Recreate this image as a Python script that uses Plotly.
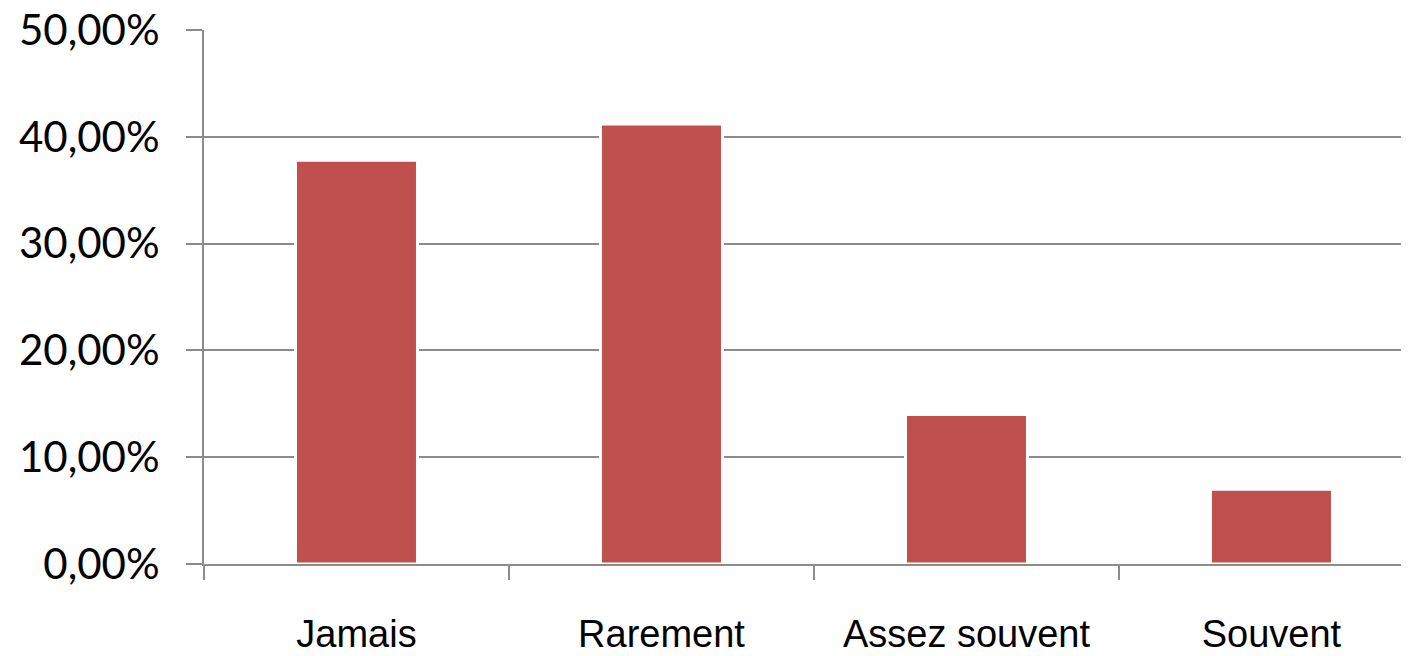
import plotly.graph_objects as go

categories = ["Jamais", "Rarement", "Assez souvent", "Souvent"]
values = [0.378, 0.412, 0.140, 0.070]
y_ticks = [0, 0.1, 0.2, 0.3, 0.4, 0.5]

fig = go.Figure(go.Bar(
    x=categories, y=values, width=0.4,
    marker=dict(color="#C0504D", line=dict(color="white", width=3)),
))

grid_col = "#8c8c8c"
fig.update_layout(
    width=1401, height=648,
    margin=dict(l=196, r=0, t=22, b=92),
    plot_bgcolor="white", paper_bgcolor="white",
    separators=", ",
    showlegend=False,
    xaxis=dict(
        range=[-0.5, 3.451], automargin=False,
        showline=True, linecolor=grid_col, linewidth=2,
        ticks="outside", tickson="boundaries", ticklen=14, tickwidth=2, tickcolor=grid_col,
        tickfont=dict(family="Liberation Sans", size=38, color="black"),
        ticklabelstandoff=35, ticklabeloverflow="allow",
        showgrid=False,
    ),
    yaxis=dict(
        range=[0, 0.5], tickvals=y_ticks, tickformat=".2%", automargin=False,
        showline=True, linecolor=grid_col, linewidth=2,
        ticks="outside", ticklen=16, tickwidth=2, tickcolor=grid_col,
        showgrid=True, gridcolor=grid_col, gridwidth=2,
        zeroline=False,
        tickfont=dict(family="Lato, Open Sans", size=42, color="black"),
        ticklabelstandoff=18, ticklabeloverflow="allow",
    ),
)

fig.write_html("out.html")
